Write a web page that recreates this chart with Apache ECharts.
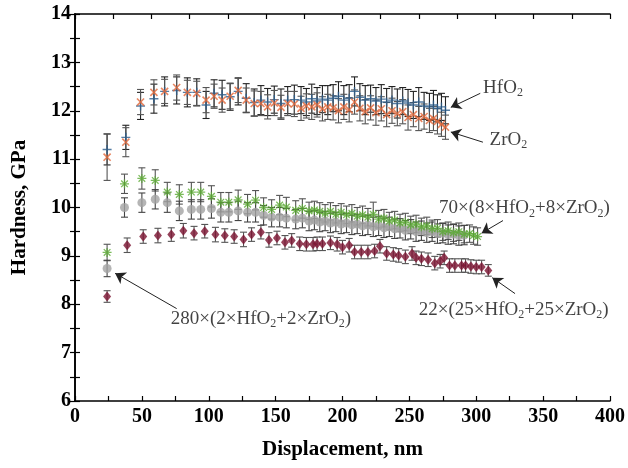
<!DOCTYPE html>
<html>
<head>
<meta charset="utf-8">
<script src="https://cdn.jsdelivr.net/npm/echarts@6/dist/echarts.min.js"></script>
<style>
  html, body { margin: 0; padding: 0; background: #fff; }
  #chart { width: 628px; height: 468px; }
</style>
</head>
<body>
<div id="chart"></div>
<script>
// shared displacement (nm) for the HfO2 / ZrO2 series
var hfX = [24, 38, 49, 59, 67, 76, 84, 91, 98, 104,
  110, 116, 122, 128, 134, 139, 144, 149, 154, 159,
  164, 169, 173, 177, 181, 185, 189, 193, 197, 201,
  205, 209, 213, 217, 221, 225, 229, 233, 237, 241,
  245, 249, 253, 257, 261, 265, 268, 271, 274, 277];
var hfY = [11.20, 11.45, 12.10, 12.25, 12.40, 12.42, 12.38, 12.38, 12.12, 12.36,
  12.33, 12.29, 12.40, 12.26, 12.17, 12.22, 12.18, 12.23, 12.15, 12.22,
  12.23, 12.22, 12.18, 12.25, 12.20, 12.24, 12.22, 12.26, 12.30, 12.22,
  12.26, 12.40, 12.28, 12.22, 12.25, 12.20, 12.24, 12.18, 12.22, 12.15,
  12.20, 12.16, 12.12, 12.18, 12.10, 12.08, 12.12, 12.05, 12.08, 12.01];
var hfErr = [0.32, 0.25, 0.28, 0.30, 0.30, 0.28, 0.30, 0.28, 0.28, 0.28,
  0.30, 0.28, 0.28, 0.30, 0.28, 0.30, 0.28, 0.28, 0.30, 0.28,
  0.30, 0.28, 0.28, 0.30, 0.28, 0.28, 0.30, 0.28, 0.30, 0.30,
  0.28, 0.30, 0.28, 0.30, 0.28, 0.28, 0.30, 0.28, 0.28, 0.30,
  0.28, 0.28, 0.28, 0.30, 0.28, 0.28, 0.30, 0.28, 0.28, 0.28];
var zrY = [11.04, 11.35, 12.18, 12.38, 12.40, 12.48, 12.38, 12.36, 12.22, 12.30,
  12.22, 12.30, 12.42, 12.22, 12.15, 12.15, 12.08, 12.16, 12.07, 12.15,
  12.14, 12.05, 12.10, 12.08, 12.12, 12.04, 12.08, 12.06, 12.00, 12.08,
  12.02, 12.18, 12.05, 11.98, 12.06, 11.96, 12.04, 11.92, 12.00, 11.94,
  11.98, 11.86, 11.92, 11.84, 11.88, 11.80, 11.84, 11.78, 11.72, 11.66];
var zrErr = [0.48, 0.30, 0.26, 0.26, 0.25, 0.26, 0.25, 0.25, 0.26, 0.25,
  0.25, 0.26, 0.25, 0.25, 0.26, 0.25, 0.25, 0.26, 0.25, 0.25,
  0.26, 0.25, 0.25, 0.26, 0.25, 0.25, 0.26, 0.25, 0.25, 0.26,
  0.25, 0.25, 0.26, 0.25, 0.25, 0.26, 0.25, 0.25, 0.26, 0.25,
  0.25, 0.26, 0.25, 0.25, 0.26, 0.25, 0.25, 0.26, 0.25, 0.25];

// 70x(8HfO2+8ZrO2) and 280x(2HfO2+2ZrO2)
var mixX = [24, 37, 50, 60, 69, 78, 87, 94, 102, 109,
  115, 122, 129, 135, 141, 147, 153, 158, 165, 170,
  175, 179, 183, 187, 191, 195, 199, 203, 207, 211,
  215, 219, 223, 227, 231, 235, 239, 243, 247, 251,
  255, 259, 263, 267, 271, 275, 279, 283, 287, 291,
  295, 298, 301];
var greenY = [9.07, 10.49, 10.60, 10.56, 10.32, 10.27, 10.32, 10.32, 10.23, 10.11,
  10.11, 10.16, 10.07, 10.15, 10.00, 9.96, 10.05, 10.01, 9.94, 9.98,
  9.93, 9.95, 9.92, 9.88, 9.92, 9.86, 9.90, 9.85, 9.88, 9.82,
  9.85, 9.80, 9.86, 9.76, 9.78, 9.72, 9.74, 9.68, 9.70, 9.64,
  9.66, 9.60, 9.62, 9.56, 9.57, 9.50, 9.52, 9.48, 9.50, 9.45,
  9.46, 9.42, 9.40];
var greenErr = [0.17, 0.20, 0.22, 0.22, 0.20, 0.20, 0.20, 0.20, 0.22, 0.20,
  0.20, 0.20, 0.20, 0.20, 0.20, 0.20, 0.20, 0.20, 0.20, 0.20,
  0.18, 0.18, 0.18, 0.18, 0.18, 0.18, 0.18, 0.18, 0.18, 0.18,
  0.18, 0.18, 0.25, 0.18, 0.18, 0.18, 0.18, 0.18, 0.18, 0.18,
  0.18, 0.18, 0.18, 0.18, 0.18, 0.18, 0.18, 0.18, 0.18, 0.18,
  0.18, 0.18, 0.18];
var grayY = [8.74, 10.00, 10.10, 10.17, 10.10, 9.93, 9.96, 9.96, 9.98, 9.90,
  9.90, 9.93, 9.90, 9.90, 9.84, 9.80, 9.80, 9.78, 9.76, 9.78,
  9.72, 9.74, 9.70, 9.72, 9.68, 9.70, 9.66, 9.68, 9.64, 9.66,
  9.62, 9.64, 9.60, 9.62, 9.58, 9.60, 9.56, 9.57, 9.53, 9.55,
  9.50, 9.52, 9.48, 9.50, 9.46, 9.47, 9.44, 9.45, 9.42, 9.43];
var grayErr = [0.17, 0.20, 0.20, 0.20, 0.20, 0.20, 0.20, 0.20, 0.20, 0.20,
  0.20, 0.20, 0.20, 0.20, 0.20, 0.20, 0.20, 0.20, 0.20, 0.20,
  0.20, 0.20, 0.20, 0.20, 0.20, 0.20, 0.20, 0.20, 0.20, 0.20,
  0.20, 0.20, 0.20, 0.20, 0.20, 0.20, 0.20, 0.20, 0.20, 0.20,
  0.20, 0.20, 0.20, 0.20, 0.20, 0.20, 0.20, 0.20, 0.20, 0.20];

// 22x(25HfO2+25ZrO2)
var redX = [24, 39, 51, 62, 72, 81, 89, 97, 105, 112,
  119, 126, 132, 139, 145, 151, 157, 162, 168, 173,
  178, 181, 185, 191, 196, 200, 205, 209, 214, 219,
  224, 228, 233, 238, 242, 247, 252, 255, 259, 264,
  269, 273, 276, 280, 284, 289, 292, 296, 300, 304,
  309];
var redY = [8.16, 9.22, 9.40, 9.42, 9.44, 9.52, 9.47, 9.51, 9.44, 9.42,
  9.40, 9.34, 9.44, 9.49, 9.33, 9.37, 9.28, 9.32, 9.25, 9.24,
  9.24, 9.25, 9.25, 9.27, 9.24, 9.18, 9.22, 9.08, 9.08, 9.08,
  9.10, 9.20, 9.05, 9.03, 9.01, 8.98, 9.05, 8.96, 8.94, 8.92,
  8.85, 8.89, 8.96, 8.80, 8.80, 8.80, 8.80, 8.78, 8.77, 8.77,
  8.70];
var redErr = [0.12, 0.15, 0.14, 0.15, 0.14, 0.15, 0.14, 0.14, 0.15, 0.14,
  0.14, 0.15, 0.14, 0.14, 0.15, 0.14, 0.14, 0.14, 0.14, 0.14,
  0.14, 0.14, 0.14, 0.14, 0.14, 0.14, 0.14, 0.14, 0.14, 0.14,
  0.14, 0.14, 0.14, 0.14, 0.14, 0.14, 0.14, 0.14, 0.14, 0.14,
  0.14, 0.14, 0.14, 0.14, 0.14, 0.14, 0.14, 0.14, 0.14, 0.14,
  0.12];

// annotation texts (centre in data units) and arrows (tail -> head)
var noteText = ['{t|HfO}{s|2}', '{t|ZrO}{s|2}', '{t|70×(8×HfO}{s|2}{t|+8×ZrO}{s|2}{t|)}',
  '{t|22×(25×HfO}{s|2}{t|+25×ZrO}{s|2}{t|)}', '{t|280×(2×HfO}{s|2}{t|+2×ZrO}{s|2}{t|)}'];
var noteX = [320, 324, 336, 328, 139];
var noteY = [12.47, 11.39, 9.98, 7.89, 7.69];
var arrowFrom = [[303, 12.36], [305, 11.35], [320, 9.73], [329, 8.22], [76, 7.91]];
var arrowTo = [[281, 12.07], [281, 11.56], [304, 9.47], [312, 8.55], [30, 8.64]];

var font = 'Liberation Serif';
var plusPath = 'path://M4.2,0H5.8V4.2H10V5.8H5.8V10H4.2V5.8H0V4.2H4.2Z';
var starPath = 'path://M4.3,0H5.7V4.3H10V5.7H5.7V10H4.3V5.7H0V4.3H4.3Z' +
  'M0.8,1.8L1.8,0.8L9.2,8.2L8.2,9.2Z M8.2,0.8L9.2,1.8L1.8,9.2L0.8,8.2Z';

function zip(xs, ys) {
  return ys.map(function(y, i) { return [xs[i], y]; });
}

function errBars(xs, ys, es, color) {
  return {
    type: 'custom',
    silent: true,
    z: 2,
    data: ys.map(function(y, i) { return [xs[i], y, es[i]]; }),
    encode: { x: 0, y: 1 },
    renderItem: function(params, api) {
      var x = api.value(0), y = api.value(1), e = api.value(2);
      var a = api.coord([x, y + e]);
      var b = api.coord([x, y - e]);
      var c = 3.5;
      var st = { stroke: color, lineWidth: 1.1 };
      return {
        type: 'group',
        children: [
          { type: 'line', shape: { x1: a[0], y1: a[1], x2: b[0], y2: b[1] }, style: st },
          { type: 'line', shape: { x1: a[0] - c, y1: a[1], x2: a[0] + c, y2: a[1] }, style: st },
          { type: 'line', shape: { x1: b[0] - c, y1: b[1], x2: b[0] + c, y2: b[1] }, style: st }
        ]
      };
    }
  };
}

var chart = echarts.init(document.getElementById('chart'), null, { renderer: 'canvas' });

var axisLine = { show: true, lineStyle: { color: '#000', width: 1.6 } };
var tickStyle = { lineStyle: { color: '#000', width: 1.2 } };

chart.setOption({
  animation: false,
  backgroundColor: '#fff',
  grid: { left: 75, right: 15, top: 14, bottom: 67 },
  xAxis: [{
    type: 'value',
    min: 0, max: 400, interval: 50,
    name: 'Displacement, nm',
    nameLocation: 'middle',
    nameGap: 38,
    nameTextStyle: { fontFamily: font, fontWeight: 'bold', fontSize: 21, color: '#000' },
    axisLine: axisLine,
    axisTick: { inside: true, length: 5, lineStyle: tickStyle.lineStyle },
    minorTick: { show: true, splitNumber: 2, length: 5, lineStyle: tickStyle.lineStyle },
    axisLabel: { fontFamily: font, fontWeight: 'bold', fontSize: 20, color: '#000', margin: 6 },
    splitLine: { show: false }
  }, {
    type: 'value',
    position: 'top',
    min: 0, max: 14, interval: 1,
    axisLine: axisLine,
    axisTick: { inside: true, length: 5, lineStyle: tickStyle.lineStyle },
    axisLabel: { show: false },
    splitLine: { show: false }
  }],
  yAxis: [{
    type: 'value',
    min: 6, max: 14, interval: 1,
    name: 'Hardness, GPa',
    nameLocation: 'middle',
    nameGap: 45,
    nameTextStyle: { fontFamily: font, fontWeight: 'bold', fontSize: 21, color: '#000' },
    axisLine: axisLine,
    axisTick: { inside: true, length: 5, lineStyle: tickStyle.lineStyle },
    minorTick: { show: true, splitNumber: 2, length: 5, lineStyle: tickStyle.lineStyle },
    axisLabel: { fontFamily: font, fontWeight: 'bold', fontSize: 20, color: '#000', margin: 4 },
    splitLine: { show: false }
  }, {
    type: 'value',
    position: 'right',
    min: 6, max: 14, interval: 0.5,
    axisLine: axisLine,
    axisTick: { inside: true, length: 5, lineStyle: tickStyle.lineStyle },
    axisLabel: { show: false },
    splitLine: { show: false }
  }],
  series: [
    errBars(hfX, hfY, hfErr, '#222'),
    errBars(hfX, zrY, zrErr, '#555'),
    errBars(mixX, greenY, greenErr, '#555'),
    errBars(mixX, grayY, grayErr, '#444'),
    errBars(redX, redY, redErr, '#555'),
    {
      name: 'HfO2', type: 'scatter', z: 3, data: zip(hfX, hfY),
      symbol: plusPath, symbolSize: 9,
      itemStyle: { color: '#2a5d8c' }
    },
    {
      name: 'ZrO2', type: 'scatter', z: 4, data: zip(hfX, zrY),
      symbol: plusPath, symbolSize: 10, symbolRotate: 45,
      itemStyle: { color: '#e2683a' }
    },
    {
      name: '280', type: 'scatter', z: 3, data: zip(mixX, grayY),
      symbol: 'circle', symbolSize: 9,
      itemStyle: { color: '#a3a3a3' }
    },
    {
      name: '70', type: 'scatter', z: 4, data: zip(mixX, greenY),
      symbol: starPath, symbolSize: 9,
      itemStyle: { color: '#5aaa32' }
    },
    {
      name: '22', type: 'scatter', z: 4, data: zip(redX, redY),
      symbol: 'diamond', symbolSize: [8, 10],
      itemStyle: { color: '#7a1230' }
    },
    {
      name: 'notes', type: 'scatter', z: 5, silent: true,
      data: noteText.map(function(t, i) { return { value: [noteX[i], noteY[i]], text: t }; }),
      symbolSize: 0,
      label: {
        show: true,
        position: 'inside',
        formatter: function(p) { return p.data.text; },
        rich: {
          t: { fontFamily: font, fontSize: 19, color: '#111', lineHeight: 21 },
          s: { fontFamily: font, fontSize: 12, color: '#111', lineHeight: 12, padding: [10, 0, 0, 0] }
        }
      },
      markLine: {
        silent: true,
        symbol: ['none', 'arrow'],
        symbolSize: 10,
        label: { show: false },
        lineStyle: { color: '#222', width: 1, type: 'solid' },
        data: arrowFrom.map(function(f, i) {
          return [{ coord: f }, { coord: arrowTo[i] }];
        })
      }
    }
  ]
});
</script>
</body>
</html>
